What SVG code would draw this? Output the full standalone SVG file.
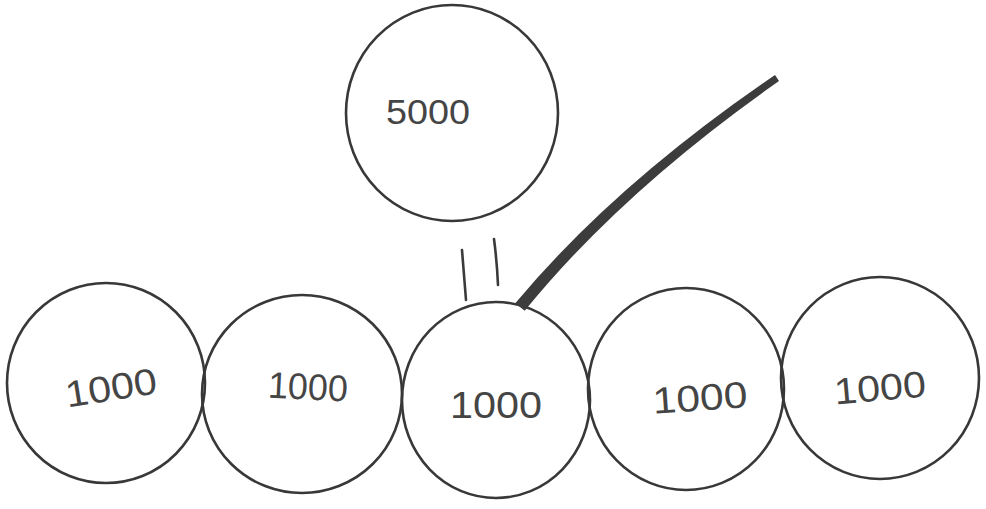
<svg xmlns="http://www.w3.org/2000/svg" width="986" height="509" viewBox="0 0 986 509">
<style>
.c{fill:none;stroke:#383838;stroke-width:2.6}
.t{font-family:"Liberation Sans",Arial,sans-serif;font-size:37px;fill:#454545;text-anchor:middle;dominant-baseline:central}
.l{fill:none;stroke:#3a3a3a;stroke-width:2.6;stroke-linecap:round}
</style>
<rect width="986" height="509" fill="#ffffff"/>
<g id="n5000">
<ellipse class="c" cx="452" cy="113" rx="106" ry="108"/>
<text class="t" x="428" y="111" textLength="84" lengthAdjust="spacingAndGlyphs" style="font-size:35px">5000</text>
</g>
<g id="n1">
<ellipse class="c" cx="106" cy="383" rx="99" ry="100"/>
<text class="t" x="111" y="388" textLength="92" lengthAdjust="spacingAndGlyphs" transform="rotate(-9 111 388)">1000</text>
</g>
<g id="n2">
<ellipse class="c" cx="302" cy="394" rx="100" ry="99"/>
<text class="t" x="308" y="387" textLength="80" lengthAdjust="spacingAndGlyphs" transform="rotate(3 308 387)">1000</text>
</g>
<g id="n3">
<ellipse class="c" cx="496" cy="400" rx="94" ry="98"/>
<text class="t" x="496" y="405" textLength="92" lengthAdjust="spacingAndGlyphs">1000</text>
</g>
<g id="n4">
<ellipse class="c" cx="686" cy="389" rx="98" ry="101"/>
<text class="t" x="700" y="398" textLength="95" lengthAdjust="spacingAndGlyphs" transform="rotate(-4 700 398)">1000</text>
</g>
<g id="n5">
<ellipse class="c" cx="880" cy="378" rx="99" ry="101"/>
<text class="t" x="880" y="388" textLength="92" lengthAdjust="spacingAndGlyphs" transform="rotate(-5 880 388)">1000</text>
</g>
<g id="connectors">
<path class="l" d="M462,250 Q464,275 466,300"/>
<path class="l" d="M494,239 Q497,262 498,285"/>
<path d="M515.3,303.2 Q614.5,184.5 775,75 L779,81 Q621.5,191.5 524.7,310.8 Z" fill="#3c3c3c"/>
</g>
</svg>
